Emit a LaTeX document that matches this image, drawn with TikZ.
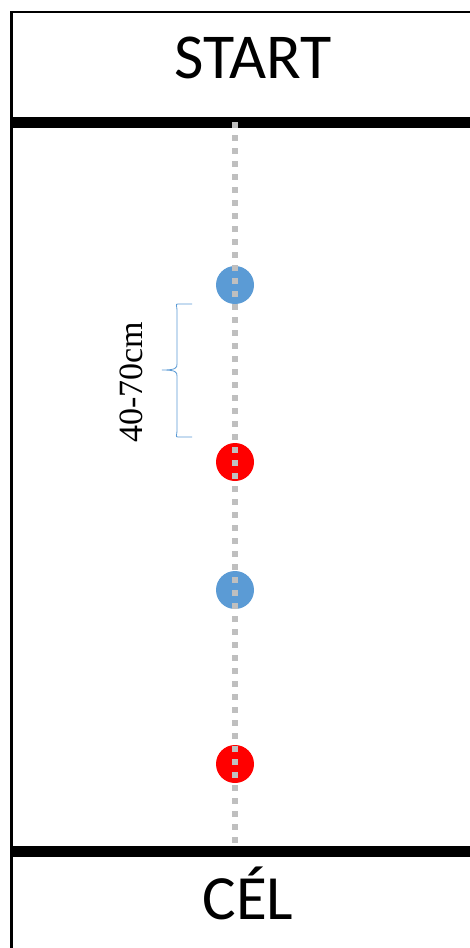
\documentclass[tikz,border=0pt]{standalone}
\usepackage{fontspec}
\setmainfont{Carlito}
\newfontfamily\labelfont{Liberation Serif}
\definecolor{dotgray}{HTML}{BFBFBF}
\definecolor{dotblue}{HTML}{5B9BD5}
\definecolor{dotred}{HTML}{FF0000}
\begin{document}
\begin{tikzpicture}[x=1pt,y=-1pt,
  frame/.style={line width=2.5pt,black},
  bar/.style={line width=11pt,black},
  track/.style={line width=6pt,dotgray,dash pattern=on 6pt off 7pt},
  bluedot/.style={circle,fill=dotblue,minimum size=38pt,inner sep=0pt},
  reddot/.style={circle,fill=dotred,minimum size=38pt,inner sep=0pt},
  title/.style={font=\fontsize{64}{64}\selectfont,inner sep=0pt},
  brace/.style={dotblue,line width=0.8pt}]
\useasboundingbox (0,0) rectangle (469,948);
\fill[white] (0,0) rectangle (469,948);
% frame
\draw[frame] (11.7,960) -- (11.7,12) -- (480,12);
% bars
\draw[bar] (13,122.5) -- (480,122.5);
\draw[bar] (13,851.5) -- (480,851.5);
% titles
\node[title] (start) at (253,58) {START};
\node[title,font=\fontsize{63}{63}\selectfont] (cel) at (248,893) {CÉL};
% dots
\node[bluedot] (b1) at (235,285) {};
\node[reddot] (r1) at (235,462) {};
\node[bluedot] (b2) at (235,590) {};
\node[reddot] (r2) at (235,764) {};
% track
\coordinate (ttop) at (235,122);
\coordinate (tbot) at (235,846);
\draw[track] (ttop) -- (tbot);
% brace
\coordinate (bt) at (192,304);
\coordinate (bb) at (192,437);
\draw[brace] (bt) -- (178,304) .. controls (175,304) and (177,306) .. (177,310) -- (177,364)
  .. controls (177,368) and (176,370) .. (162,370)
  .. controls (176,370) and (177,372) .. (177,376) -- (177,431)
  .. controls (177,435) and (175,437) .. (178,437) -- (bb);
\node[rotate=90,font=\labelfont\fontsize{34}{34}\selectfont,inner sep=0pt] (lbl) at (131,382) {40-70cm};
\end{tikzpicture}
\end{document}
